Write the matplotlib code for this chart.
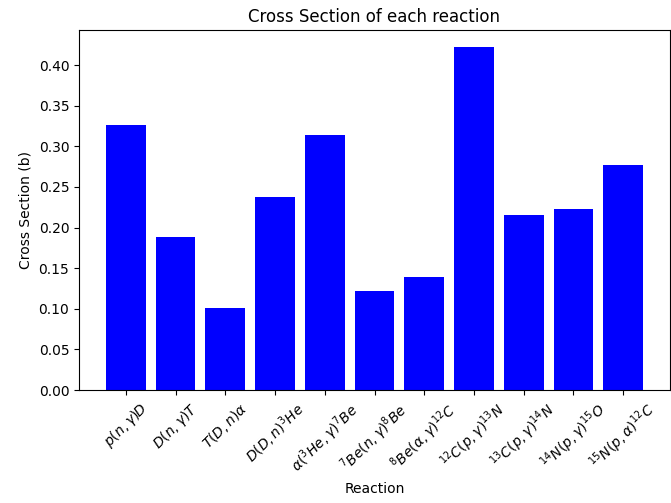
import matplotlib
matplotlib.use("Agg")
import matplotlib.pyplot as plt
import numpy as np

reactions = [
    r"$p(n,\gamma)D$", r"$D(n,\gamma)T$", r"$T(D,n)\alpha$", r"$D(D,n)^3He$",
    r"$\alpha(^3He,\gamma)^7Be$", r"$^7Be(n,\gamma)^8Be$", r"$^8Be(\alpha,\gamma)^{12}C$",
    r"$^{12}C(p,\gamma)^{13}N$", r"$^{13}C(p,\gamma)^{14}N$", r"$^{14}N(p,\gamma)^{15}O$",
    r"$^{15}N(p,\alpha)^{12}C$",
]
cross_section = [0.326, 0.188, 0.101, 0.238, 0.314, 0.122, 0.139, 0.422, 0.216, 0.223, 0.277]

fig = plt.figure(figsize=(6.71, 5.03), dpi=100)
ax = fig.add_axes([79 / 671, 1 - 390 / 503, 591 / 671, 360 / 503])
x = np.arange(len(reactions))
ax.bar(x, cross_section, color="blue")
ax.set_xticks(x)
ax.set_xticklabels(reactions, rotation=45)
ax.set_xlabel("Reaction")
ax.set_ylabel("Cross Section (b)")
ax.set_title("Cross Section of each reaction")
fig.savefig("out.png")
